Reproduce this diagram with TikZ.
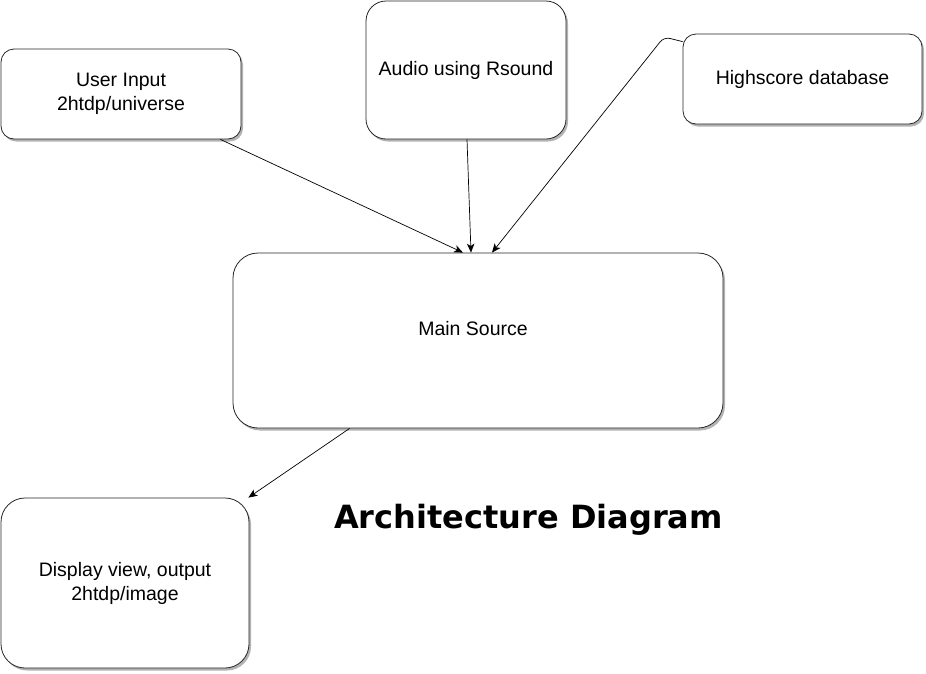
\documentclass[tikz,border=0pt]{standalone}
\usepackage{fontspec}
\setmainfont{Liberation Sans}
\newfontfamily\titlefont{DejaVu Sans}
\usetikzlibrary{arrows.meta,shadows}

\begin{document}
\begin{tikzpicture}[x=1pt,y=-1pt,>={Stealth[length=9pt,width=7.5pt,inset=2.5pt]},
  box/.style={draw=black!85,line width=0.8pt,fill=white,align=center,inner sep=0pt,
    font=\fontsize{19.5}{24}\selectfont,
    drop shadow={shadow xshift=2pt,shadow yshift=-2.5pt,fill=black!50,opacity=0.6}},
  link/.style={->,line width=0.7pt}]
\useasboundingbox (0,0) rectangle (926,673);

\node[box,minimum width=240pt,minimum height=90pt,rounded corners=13pt] (input) at (121,94)  {User Input\\2htdp/universe};
\node[box,minimum width=200pt,minimum height=138pt,rounded corners=20pt] (audio) at (466,70)  {Audio using Rsound};
\node[box,minimum width=239pt,minimum height=90pt,rounded corners=13pt] (score) at (802.5,79)  {Highscore database};
\node[box,minimum width=490pt,minimum height=175pt,rounded corners=25pt] (main) at (478,340.5)  {Main Source\hspace*{10pt}\\~};
\node[box,minimum width=248pt,minimum height=170pt,rounded corners=24pt] (display) at (125,583)  {Display view, output\\2htdp/image};

\node[font=\titlefont\bfseries\fontsize{32}{38}\selectfont,anchor=base] (title) at (528.5,528) {Architecture Diagram};

%% the highscore line leaves the box sideways and turns down
\coordinate (score-bend) at (664,37);

\path[link] ([xshift=-21pt]input.south east) edge ([xshift=-15pt]main.north);
\path[link] ([xshift=1pt]audio.south) edge ([xshift=-7pt]main.north);
\draw[link,rounded corners=6pt] ([yshift=-8pt]score.north west) -- (score-bend) -- ([xshift=14pt]main.north);
\path[link] ([xshift=117pt]main.south west) edge ([xshift=-1pt]display.north east);
\end{tikzpicture}
\end{document}
